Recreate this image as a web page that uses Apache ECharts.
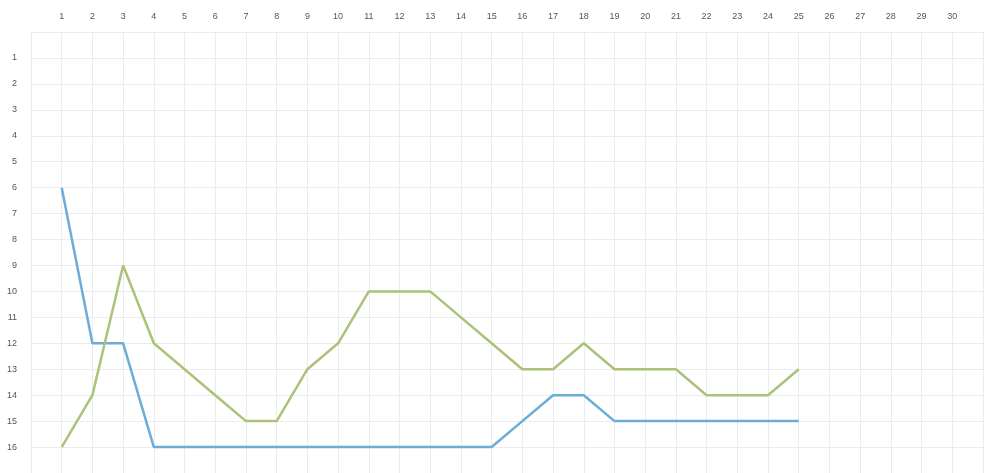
<!DOCTYPE html>
<html>
<head>
<meta charset="utf-8">
<script src="https://cdn.jsdelivr.net/npm/echarts@6/dist/echarts.min.js"></script>
<style>html,body{margin:0;padding:0;background:#fff;}#c{width:986px;height:473px;}</style>
</head>
<body>
<div id="c"></div>
<script>
var xTicks = [1,2,3,4,5,6,7,8,9,10,11,12,13,14,15,16,17,18,19,20,21,22,23,24,25,26,27,28,29,30];
var yTicks = [1,2,3,4,5,6,7,8,9,10,11,12,13,14,15,16];
var days = [1,2,3,4,5,6,7,8,9,10,11,12,13,14,15,16,17,18,19,20,21,22,23,24,25];
var blueSeries = [6,12,12,16,16,16,16,16,16,16,16,16,16,16,16,15,14,14,15,15,15,15,15,15,15];
var greenSeries = [16,14,9,12,13,14,15,15,13,12,10,10,10,11,12,13,13,12,13,13,13,14,14,14,13];

function pairs(xs, ys){ return xs.map(function(x,i){ return [x, ys[i]]; }); }

var chart = echarts.init(document.getElementById('c'));
chart.setOption({
  animation: false,
  grid: { left: 31, top: 32, width: 964, height: 441, containLabel: false },
  xAxis: {
    type: 'value', position: 'top', min: 0, max: 31, interval: 1,
    axisLine: { show: false }, axisTick: { show: false },
    axisLabel: { color: '#555', fontSize: 9, margin: 11,
      formatter: function(v){ return xTicks.indexOf(v) >= 0 ? String(v) : ''; } },
    splitLine: { show: true, lineStyle: { color: '#ececec', width: 1 } }
  },
  yAxis: {
    type: 'value', inverse: true, min: 0, max: 17, interval: 1,
    axisLine: { show: false }, axisTick: { show: false },
    axisLabel: { color: '#555', fontSize: 9, margin: 14,
      formatter: function(v){ return yTicks.indexOf(v) >= 0 ? String(v) : ''; } },
    splitLine: { show: true, lineStyle: { color: '#ececec', width: 1 } }
  },
  series: [
    { type: 'line', data: pairs(days, blueSeries), symbol: 'none',
      lineStyle: { color: '#6aaed8', width: 2.5 } },
    { type: 'line', data: pairs(days, greenSeries), symbol: 'none',
      lineStyle: { color: '#aac27a', width: 2.5 } }
  ]
});
</script>
</body>
</html>
